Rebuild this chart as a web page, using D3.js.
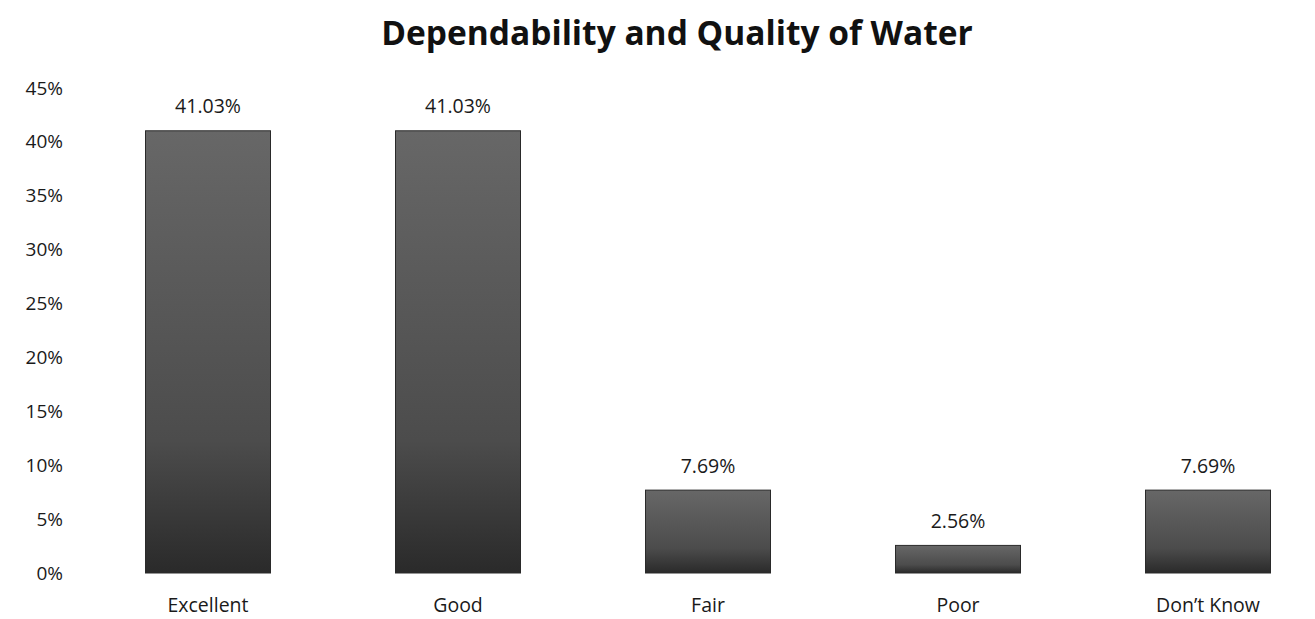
<!DOCTYPE html>
<html>
<head>
<meta charset="utf-8">
<script src="https://cdn.jsdelivr.net/npm/d3@7"></script>
<style>
  html, body { margin: 0; padding: 0; background: #fff; }
  svg { display: block; font-family: 'Open Sans', 'Noto Sans', sans-serif; }
</style>
</head>
<body>
<div id="app"></div>
<script>
const categories = ['Excellent', 'Good', 'Fair', 'Poor', 'Don\u2019t Know']
const values = [41.03, 41.03, 7.69, 2.56, 7.69]
const yTicks = [0, 5, 10, 15, 20, 25, 30, 35, 40, 45]

const width = 1315
const height = 619

const svg = d3.select('#app').append('svg')
  .attr('width', width)
  .attr('height', height)

const defs = svg.append('defs')
const grad = defs.append('linearGradient')
  .attr('id', 'barFill')
  .attr('x1', 0).attr('y1', 0).attr('x2', 0).attr('y2', 1)
grad.append('stop').attr('offset', '0%').attr('stop-color', '#676767')
grad.append('stop').attr('offset', '70%').attr('stop-color', '#4c4c4c')
grad.append('stop').attr('offset', '100%').attr('stop-color', '#2a2a2a')

const x = d3.scaleBand()
  .domain(categories)
  .range([83, 1333])
  .paddingInner(0.5)
  .paddingOuter(0.25)

const y = d3.scaleLinear()
  .domain([0, 45])
  .range([573, 88])

// title
svg.append('text')
  .attr('x', 677)
  .attr('y', 45)
  .attr('text-anchor', 'middle')
  .attr('font-size', 33.5)
  .attr('font-weight', 'bold')
  .attr('fill', '#111')
  .text('Dependability and Quality of Water')

// y axis, labels only
const yAxis = d3.axisLeft(y)
  .tickValues(yTicks)
  .tickFormat((d) => d + '%')
  .tickSize(0)
  .tickPadding(0)

svg.append('g')
  .attr('transform', 'translate(63,0)')
  .call(yAxis)
  .call((g) => g.select('.domain').remove())
  .selectAll('text')
  .attr('font-size', 19)
  .attr('fill', '#1a1a1a')
  .attr('font-family', "'Open Sans', sans-serif")

// x axis, labels only
const xAxis = d3.axisBottom(x).tickSize(0).tickPadding(0)
svg.append('g')
  .attr('transform', 'translate(0,592)')
  .call(xAxis)
  .call((g) => g.select('.domain').remove())
  .selectAll('text')
  .attr('dy', null)
  .attr('y', 19.5)
  .attr('font-size', 19.5)
  .attr('fill', '#1a1a1a')
  .attr('font-family', "'Open Sans', sans-serif")

// bars
svg.append('g')
  .selectAll('rect')
  .data(values)
  .join('rect')
  .attr('x', (d, i) => x(categories[i]))
  .attr('y', (d) => y(d))
  .attr('width', x.bandwidth())
  .attr('height', (d) => y(0) - y(d))
  .attr('fill', 'url(#barFill)')
  .attr('stroke', '#2a2a2a')
  .attr('stroke-width', 1)

// value labels
svg.append('g')
  .selectAll('text')
  .data(values)
  .join('text')
  .attr('x', (d, i) => x(categories[i]) + x.bandwidth() / 2)
  .attr('y', (d) => y(d) - 17.5)
  .attr('text-anchor', 'middle')
  .attr('font-size', 19.5)
  .attr('fill', '#1a1a1a')
  .text((d) => d.toFixed(2) + '%')
</script>
</body>
</html>
